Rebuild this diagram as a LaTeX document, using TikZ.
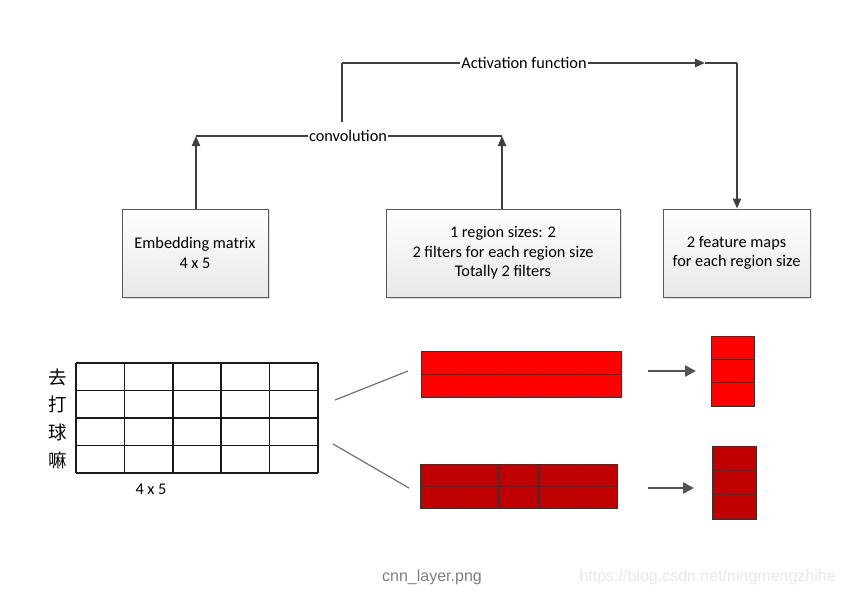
\documentclass[tikz,border=0pt]{standalone}
\usepackage{fontspec}
\setmainfont{Carlito}
\newfontfamily\cjkf{Noto Sans CJK SC}
\newfontfamily\capf{Liberation Sans}
\usetikzlibrary{arrows.meta,shadows}
\definecolor{lineg}{HTML}{404040}
\definecolor{redA}{HTML}{FF0000}
\definecolor{redB}{HTML}{C00000}
\tikzset{
  conn/.style={draw=lineg, line width=2pt},
  arr/.style={conn, -{Triangle[length=10pt,width=8pt]}},
  smallarr/.style={draw=lineg!90, line width=2.4pt, -{Triangle[length=11pt,width=11pt]}},
  box/.style={draw=black!65, line width=0.8pt, top color=white, bottom color=black!9,
    drop shadow={shadow xshift=2pt, shadow yshift=-2pt, opacity=0.25},
    align=center, font=\fontsize{16.3}{19.5}\selectfont, minimum height=88pt, inner sep=0pt},
  lbl/.style={fill=white, inner sep=1pt, font=\fontsize{16.3}{17}\selectfont},
  cell/.style={draw=black!90, line width=1.5pt},
  slant/.style={draw=black!55, line width=1.2pt},
}
\newcommand\cellgrid[7]{% x0 y0 w h cols rows color
  \fill[#7] (#1,#2) rectangle ({#1+#3},{#2+#4});
  \foreach \i in {1,...,#5}{\draw[black!80, line width=1pt] ({#1+#3*\i/#5},#2) -- ({#1+#3*\i/#5},{#2+#4});}
  \foreach \j in {1,...,#6}{\draw[black!80, line width=1pt] (#1,{#2+#4*\j/#6}) -- ({#1+#3},{#2+#4*\j/#6});}
  \draw[black!80, line width=1pt] (#1,#2) rectangle ({#1+#3},{#2+#4});
}
\begin{document}
\begin{tikzpicture}[x=1pt,y=-1pt]
\useasboundingbox (0,0) rectangle (841,595);
\fill[white] (0,0) rectangle (841,595);

% boxes
\node[box, minimum width=146pt] (emb) at (195,253) {Embedding matrix\\4 x 5};
\node[box, minimum width=234pt] (mid) at (503,253) {1 region sizes: 2\\2 filters for each region size\\Totally 2 filters};
\node[box, minimum width=147pt] (fm) at (736.5,253) {2 feature maps\\for each region size};

% convolution
\coordinate (c1) at (196,136);
\coordinate (c2) at (502,136);
\draw[arr] (emb.north -| c1) -- (c1);
\draw[arr] (mid.north -| c2) -- (c2);
\draw[conn] (c1) -- (c2);
\node[lbl] (conv) at (348,136) {convolution};

% activation
\coordinate (a0) at (342,122);
\coordinate (a1) at (342,63);
\coordinate (a2) at (705,63);
\coordinate (a3) at (737,63);
\draw[conn] (a0) -- (a1);
\draw[arr] (a1) -- (a2);
\draw[conn] (a2) -- (a3);
\draw[arr] (a3) -- (fm.north -| a3);
\node[lbl] (act) at (524,63) {Activation function};

% embedding grid
\foreach \i in {0,...,5}{\draw[cell] ({76+242*\i/5},363) -- ({76+242*\i/5},473);}
\foreach \j in {0,...,4}{\draw[cell] (76,{363+110*\j/4}) -- (318,{363+110*\j/4});}
\node[font=\cjkf\fontsize{18.5}{18.5}\selectfont] (w1) at (58,377) {去};
\node[font=\cjkf\fontsize{18.5}{18.5}\selectfont] (w2) at (58,404) {打};
\node[font=\cjkf\fontsize{18.5}{18.5}\selectfont] (w3) at (58,432) {球};
\node[font=\cjkf\fontsize{18.5}{18.5}\selectfont] (w4) at (58,460) {嘛};
\node[font=\fontsize{16.3}{17}\selectfont] (gl) at (151,489) {4 x 5};

% slanted lines
\coordinate (s1a) at (335,400); \coordinate (s1b) at (408,371);
\coordinate (s2a) at (333,444); \coordinate (s2b) at (409,488);
\draw[slant] (s1a) -- (s1b);
\draw[slant] (s2a) -- (s2b);

% filters
\cellgrid{421}{351}{200}{46}{5}{2}{redA}
\cellgrid{420}{464}{197}{44}{5}{2}{redB}

% arrows to maps
\coordinate (m1a) at (648,371); \coordinate (m1b) at (696,371);
\coordinate (m2a) at (648,488); \coordinate (m2b) at (694,488);
\draw[smallarr] (m1a) -- (m1b);
\draw[smallarr] (m2a) -- (m2b);

% feature maps
\cellgrid{711}{336}{43}{70}{1}{3}{redA}
\cellgrid{712}{446}{44}{73}{1}{3}{redB}

% captions
\node[font=\capf\fontsize{16}{18}\selectfont, text=black!50] (cap) at (432,577) {cnn\_layer.png};
\node[font=\capf\fontsize{16}{18}\selectfont, text=black!9, anchor=west] (wm) at (576,577) {https://blog.csdn.net/ningmengzhihe};
\end{tikzpicture}
\end{document}
